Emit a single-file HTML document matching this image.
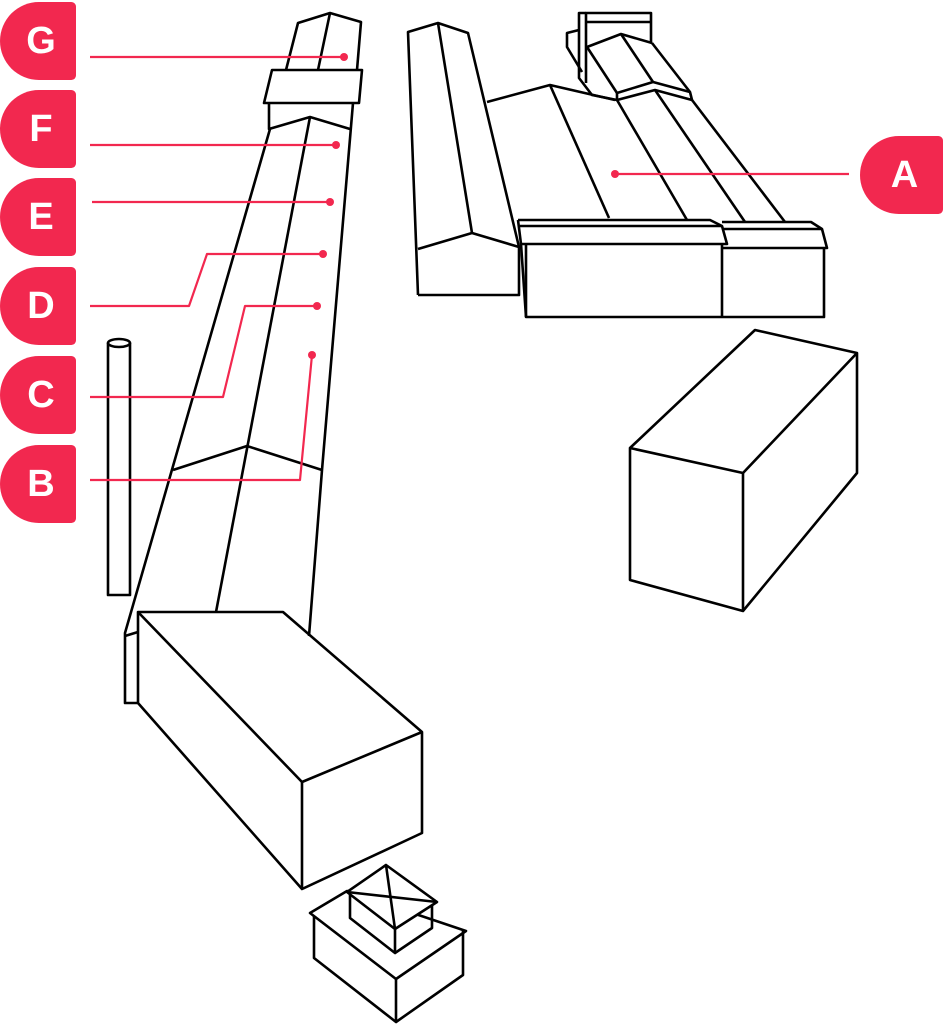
<!DOCTYPE html>
<html><head><style>
html,body{margin:0;padding:0;background:#fff;width:949px;height:1024px;overflow:hidden}
.t{position:absolute;left:0;width:76px;height:78px;background:#f2284f;border-radius:42px 5px 5px 42px;color:#fff;font:bold 38px "Liberation Sans",sans-serif;display:flex;align-items:center;justify-content:center;padding-left:6px;box-sizing:border-box}
</style></head><body>
<div class="t" style="top:2px">G</div>
<div class="t" style="top:90px">F</div>
<div class="t" style="top:178px">E</div>
<div class="t" style="top:267px">D</div>
<div class="t" style="top:356px">C</div>
<div class="t" style="top:445px">B</div>
<div class="t" style="top:136px;left:860px;width:83px">A</div>
<svg width="949" height="1024" style="position:absolute;left:0;top:0" fill="none" stroke-linejoin="round">
<g stroke="#000" stroke-width="2.6">
<polyline points="286,70 298,23 330,13 361,22 357,70"/>
<line x1="330" y1="13" x2="318" y2="70"/>
<polygon points="272,70 362,70 359,103 264,103"/>
<polyline points="269,103 269,129 310,117 350,129"/>
<polyline points="353,103 322,470 309,636"/>
<polyline points="270,129 125,633 125,703 138,703"/>
<line x1="125" y1="636" x2="138" y2="632"/>
<line x1="310" y1="117" x2="216" y2="612"/>
<polyline points="173,470 247,446 322,470"/>
<ellipse cx="119" cy="343" rx="11" ry="4"/>
<polyline points="108,343 108,595 130,595 130,343"/>
<polygon points="138,612 283,612 422,732 422,833 302,889 138,703"/>
<polyline points="138,612 302,782 422,732"/>
<line x1="302" y1="782" x2="302" y2="889"/>
<polygon points="310,913 347,891 466,931 396,979"/>
<polyline points="314,916 314,958 396,1022 463,975 463,931"/>
<line x1="396" y1="979" x2="396" y2="1022"/>
<polygon points="386,865 437,902 395,929 347,892" fill="#fff"/>
<polyline points="350,895 350,918 395,953 432,928 432,905"/>
<line x1="395" y1="929" x2="395" y2="953"/>
<line x1="347" y1="892" x2="437" y2="902"/>
<line x1="386" y1="865" x2="395" y2="929"/>
<polygon points="755,330 857,353 857,473 743,611 630,580 630,448"/>
<polyline points="630,448 743,473 857,353"/>
<line x1="743" y1="473" x2="743" y2="611"/>
<polyline points="418,295 408,32 438,23 468,33 519,247"/>
<line x1="438" y1="23" x2="472" y2="233"/>
<polyline points="418,249 472,233 519,247"/>
<polyline points="418,295 519,295 519,246"/>
<polyline points="487,102 550,85 615,100"/>
<line x1="550" y1="85" x2="609" y2="218"/>
<line x1="617" y1="100" x2="687" y2="220"/>
<line x1="655" y1="90" x2="745" y2="222"/>
<line x1="692" y1="100" x2="785" y2="222"/>
<polyline points="617,100 617,93 653,82 690,92 692,100 655,90 617,100"/>
<line x1="587" y1="47" x2="617" y2="93"/>
<line x1="621" y1="34" x2="653" y2="82"/>
<line x1="652" y1="43" x2="690" y2="92"/>
<polyline points="587,47 621,34 652,43"/>
<polyline points="586,47 586,13 651,13 651,43"/>
<line x1="586" y1="22" x2="651" y2="22"/>
<polyline points="586,13 579,13 579,78 592,95 617,100"/>
<polyline points="586,47 586,83"/>
<polyline points="579,30 567,33 567,47 582,72"/>
<polyline points="518,220 710,220 722,226 727,244 521,244 518,220"/>
<line x1="520" y1="226" x2="722" y2="226"/>
<polyline points="722,222 811,222 822,229 827,248 723,248"/>
<line x1="722" y1="229" x2="822" y2="229"/>
<polyline points="521,244 526,317 824,317 824,248"/>
<line x1="526" y1="244" x2="526" y2="317"/>
<line x1="722" y1="244" x2="722" y2="317"/>
</g>
<g stroke="#f2284f" stroke-width="2.2" fill="none">
<line x1="90" y1="57" x2="344" y2="57"/>
<line x1="90" y1="145" x2="336" y2="145"/>
<line x1="92" y1="202" x2="330" y2="202"/>
<polyline points="90,306 189,306 207,254 323,254"/>
<polyline points="90,397 223,397 245,306 317,306"/>
<polyline points="90,480 300,480 312,355"/>
<line x1="615" y1="174" x2="849" y2="174"/>
</g>
<g fill="#f2284f">
<circle cx="344" cy="57" r="4"/><circle cx="336" cy="145" r="4"/><circle cx="330" cy="202" r="4"/>
<circle cx="323" cy="254" r="4"/><circle cx="317" cy="306" r="4"/><circle cx="312" cy="355" r="4"/>
<circle cx="615" cy="174" r="4"/>
</g>
</svg>
</body></html>
